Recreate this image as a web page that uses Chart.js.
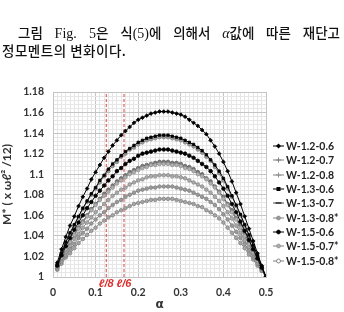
<!DOCTYPE html>
<html><head><meta charset="utf-8">
<script src="https://cdn.jsdelivr.net/npm/chart.js@4"></script>
<style>
html,body{margin:0;padding:0;background:#fff;}
#wrap{position:relative;width:344px;height:312px;overflow:hidden;background:#fff;}
#c{position:absolute;left:0;top:0;}
.cap{position:absolute;font-family:"Noto Sans CJK KR";font-weight:500;font-size:13.5px;color:#111;line-height:18px;}
.serif{font-family:"Liberation Serif";font-weight:normal;font-size:14px;}
.greek{font-family:"Liberation Serif";font-style:italic;font-size:14px;}
#l1{left:18px;top:23px;width:322px;text-align:justify;text-align-last:justify;white-space:normal;}
#l2{left:2px;top:41px;white-space:nowrap;letter-spacing:0.5px;}
#legend{position:absolute;left:273px;top:139px;font-family:Lato;font-weight:bold;font-size:10.5px;color:#222;}
.item{height:14.3px;display:flex;align-items:center;white-space:nowrap;}
.item svg{margin-right:1px;flex:none;}
</style></head>
<body>
<div id="wrap">
<canvas id="c" width="344" height="312"></canvas>
<div class="cap" id="l1">그림 <span class="serif">Fig. 5</span>은 식<span class="serif">(5)</span>에 의해서 <span class="greek">α</span>값에 따른 재단고</div>
<div class="cap" id="l2">정모멘트의 변화이다.</div>
<div id="legend"></div>
</div>
<script>
// ---- data ----
const alphas = [0.01,0.02,0.03,0.04,0.05,0.06,0.07,0.08,0.09,0.10,
                0.11,0.12,0.13,0.14,0.15,0.16,0.17,0.18,0.19,0.20,
                0.21,0.22,0.23,0.24,0.25,0.26,0.27,0.28,0.29,0.30,
                0.31,0.32,0.33,0.34,0.35,0.36,0.37,0.38,0.39,0.40,
                0.41,0.42,0.43,0.44,0.45,0.46,0.47,0.48,0.49,0.50];

const seriesNames = ['W-1.2-0.6','W-1.2-0.7','W-1.2-0.8','W-1.3-0.6','W-1.3-0.7','W-1.3-0.8*','W-1.5-0.6','W-1.5-0.7*','W-1.5-0.8*'];

const W12_06 = [1.014,1.027,1.039,1.050,1.059,1.069,1.078,1.086,1.095,1.102,
                1.109,1.116,1.122,1.128,1.133,1.138,1.142,1.146,1.150,1.153,
                1.155,1.157,1.159,1.160,1.161,1.161,1.161,1.160,1.159,1.158,
                1.156,1.153,1.150,1.147,1.143,1.139,1.133,1.127,1.120,1.112,
                1.103,1.093,1.082,1.071,1.059,1.047,1.035,1.023,1.011,1.000];
const W12_07 = [1.012,1.023,1.033,1.042,1.050,1.058,1.066,1.073,1.080,1.086,
                1.092,1.098,1.103,1.108,1.112,1.117,1.120,1.124,1.126,1.129,
                1.131,1.133,1.134,1.135,1.136,1.136,1.136,1.135,1.134,1.133,
                1.131,1.129,1.127,1.124,1.121,1.117,1.113,1.107,1.101,1.094,
                1.086,1.078,1.069,1.060,1.050,1.040,1.030,1.020,1.010,1.000];
const W12_08 = [1.010,1.019,1.027,1.034,1.041,1.047,1.053,1.059,1.065,1.070,
                1.075,1.079,1.083,1.087,1.091,1.094,1.097,1.100,1.102,1.104,
                1.106,1.107,1.109,1.109,1.110,1.110,1.110,1.109,1.109,1.108,
                1.106,1.105,1.103,1.100,1.098,1.095,1.091,1.087,1.082,1.076,
                1.070,1.063,1.056,1.048,1.040,1.032,1.024,1.016,1.008,1.000];
const W13_06 = [1.012,1.023,1.034,1.043,1.051,1.059,1.067,1.074,1.081,1.087,
                1.094,1.099,1.105,1.110,1.114,1.118,1.122,1.125,1.128,1.131,
                1.133,1.135,1.136,1.137,1.138,1.138,1.138,1.137,1.136,1.135,
                1.133,1.131,1.129,1.126,1.123,1.119,1.114,1.109,1.103,1.096,
                1.088,1.079,1.070,1.061,1.051,1.041,1.031,1.021,1.010,1.000];
const W13_07 = [1.010,1.019,1.027,1.034,1.041,1.048,1.054,1.060,1.066,1.071,
                1.076,1.081,1.085,1.089,1.093,1.096,1.099,1.102,1.104,1.106,
                1.108,1.109,1.110,1.111,1.112,1.112,1.112,1.111,1.111,1.110,
                1.108,1.107,1.105,1.102,1.100,1.096,1.093,1.088,1.083,1.078,
                1.071,1.065,1.057,1.050,1.042,1.034,1.025,1.017,1.008,1.000];
const W13_08 = [1.008,1.015,1.021,1.027,1.032,1.038,1.043,1.047,1.052,1.056,
                1.060,1.063,1.067,1.070,1.073,1.075,1.078,1.080,1.082,1.084,
                1.085,1.086,1.087,1.087,1.088,1.088,1.088,1.088,1.087,1.086,
                1.085,1.084,1.082,1.080,1.078,1.076,1.073,1.070,1.066,1.061,
                1.056,1.050,1.044,1.038,1.032,1.026,1.019,1.013,1.006,1.000];
const W15_06 = [1.011,1.021,1.030,1.038,1.046,1.053,1.060,1.067,1.073,1.079,
                1.084,1.089,1.094,1.098,1.103,1.106,1.110,1.113,1.115,1.118,
                1.120,1.121,1.122,1.123,1.124,1.124,1.124,1.123,1.122,1.121,
                1.120,1.118,1.116,1.113,1.110,1.107,1.103,1.098,1.092,1.086,
                1.079,1.071,1.063,1.054,1.045,1.036,1.027,1.018,1.009,1.000];
const W15_07 = [1.009,1.017,1.024,1.030,1.037,1.042,1.048,1.053,1.058,1.063,
                1.067,1.071,1.075,1.079,1.082,1.085,1.087,1.090,1.092,1.094,
                1.095,1.097,1.098,1.098,1.099,1.099,1.099,1.098,1.098,1.097,
                1.096,1.094,1.092,1.090,1.088,1.085,1.082,1.078,1.074,1.069,
                1.063,1.057,1.050,1.043,1.036,1.029,1.022,1.015,1.007,1.000];
const W15_08 = [1.007,1.013,1.019,1.023,1.028,1.033,1.037,1.041,1.045,1.048,
                1.052,1.055,1.058,1.060,1.063,1.065,1.067,1.069,1.071,1.072,
                1.073,1.074,1.075,1.075,1.076,1.076,1.076,1.076,1.075,1.074,
                1.073,1.072,1.071,1.069,1.068,1.065,1.063,1.060,1.057,1.053,
                1.048,1.043,1.038,1.033,1.028,1.022,1.017,1.011,1.006,1.000];

const seriesValues = [W12_06,W12_07,W12_08,W13_06,W13_07,W13_08,W15_06,W15_07,W15_08];

// reference lines l/8 and l/6
const refAlphas = [0.125, 0.1667];
const refLabels = ['ℓ/8','ℓ/6'];

// axes
const xMin = 0, xMax = 0.5, xMinor = 0.01;
const yMin = 1, yMax = 1.18, yMinor = 0.004;
const xTickValues = [0,0.1,0.2,0.3,0.4,0.5];
const xTickLabels = ['0','0.1','0.2','0.3','0.4','0.5'];
const yTickValues = [1,1.02,1.04,1.06,1.08,1.1,1.12,1.14,1.16,1.18];
const yTickLabels = ['1','1.02','1.04','1.06','1.08','1.1','1.12','1.14','1.16','1.18'];

// ---- styles ----
const BLACK = '#000000', GRAY = '#808080', LGRAY = '#9a9a9a';
const styles = [
  {line:BLACK, fill:BLACK, border:BLACK, ps:'rectRot', r:1.9, mk:'diamond', dark:true},
  {line:GRAY,  fill:LGRAY, border:GRAY,  ps:'circle',  r:1.8, mk:'plus'},
  {line:GRAY,  fill:'#b0b0b0', border:'#909090', ps:'circle', r:1.8, mk:'plus'},
  {line:BLACK, fill:BLACK, border:BLACK, ps:'rect',    r:1.7, mk:'square', dark:true},
  {line:'#555',fill:'#777', border:'#666', ps:'circle', r:1.8, mk:'dash'},
  {line:GRAY,  fill:LGRAY, border:GRAY,  ps:'circle',  r:1.8, mk:'circle'},
  {line:BLACK, fill:BLACK, border:BLACK, ps:'circle',  r:1.8, mk:'circle', dark:true},
  {line:GRAY,  fill:'#aaaaaa', border:'#8a8a8a', ps:'circle', r:1.8, mk:'circleL'},
  {line:GRAY,  fill:'#a5a5a5', border:'#858585', ps:'circle', r:1.8, mk:'circleO'}
];

function near(v, arr){ for (let i=0;i<arr.length;i++){ if (Math.abs(v-arr[i])<1e-6) return i; } return -1; }

const datasets = [];
seriesValues.forEach((vals, i) => {
  const s = styles[i];
  datasets.push({
    label: seriesNames[i],
    data: alphas.map((a, k) => ({x:a, y:vals[k]})),
    showLine: true,
    borderColor: s.line,
    borderWidth: 1,
    pointStyle: s.ps,
    pointRadius: s.r,
    pointBackgroundColor: s.fill,
    pointBorderColor: s.border,
    pointBorderWidth: 0.8,
    order: s.dark ? 0 : 1
  });
});
refAlphas.forEach((a, i) => {
  datasets.push({
    label: refLabels[i],
    data: [{x:a, y:yMin},{x:a, y:yMax}],
    showLine: true,
    borderColor: '#e04545',
    borderWidth: 1,
    borderDash: [3,2],
    pointRadius: 0,
    order: 2
  });
});

const refLabelPlugin = {
  id: 'refLabels',
  afterDatasetsDraw(chart){
    const {ctx, scales:{x, y}} = chart;
    ctx.save();
    ctx.fillStyle = '#e03030';
    ctx.font = 'italic bold 11px "Liberation Sans"';
    ctx.textAlign = 'center';
    ctx.textBaseline = 'middle';
    refAlphas.forEach((a, i) => ctx.fillText(refLabels[i], x.getPixelForValue(a), y.bottom + 7));
    ctx.restore();
  }
};

function gridColor(ctx, majors){
  const v = ctx.tick ? ctx.tick.value : null;
  if (v === null) return '#e6e6e6';
  return near(v, majors) >= 0 ? '#c4c4c4' : '#e6e6e6';
}

new Chart(document.getElementById('c'), {
  type: 'scatter',
  data: { datasets },
  plugins: [refLabelPlugin],
  options: {
    responsive: false,
    animation: false,
    layout: { padding: { top: 92, right: 78, left: 0, bottom: 0 } },
    plugins: { legend: { display: false }, tooltip: { enabled: false } },
    scales: {
      x: {
        type: 'linear', min: xMin, max: xMax,
        afterFit(s){ s.height = 35; },
        ticks: {
          stepSize: xMinor, autoSkip: false, maxRotation: 0, padding: 9,
          color: '#333', font: { family: 'Lato', weight: 'bold', size: 10.5 },
          callback(v){ const i = near(v, xTickValues); return i >= 0 ? xTickLabels[i] : ''; }
        },
        grid: { drawTicks: false, color: (c) => gridColor(c, xTickValues), lineWidth: 1 },
        border: { color: '#c4c4c4' },
        title: { display: true, text: 'α', color: '#333', font: { family: 'DejaVu Sans', weight: 'bold', size: 12 }, padding: { top: 0, bottom: 0 } }
      },
      y: {
        type: 'linear', min: yMin, max: yMax,
        afterFit(s){ s.width = 53; },
        ticks: {
          stepSize: yMinor, autoSkip: false, padding: 9,
          color: '#333', font: { family: 'Lato', weight: 'bold', size: 10.5 },
          callback(v){ const i = near(v, yTickValues); return i >= 0 ? yTickLabels[i] : ''; }
        },
        grid: { drawTicks: false, color: (c) => gridColor(c, yTickValues), lineWidth: 1 },
        border: { color: '#c4c4c4' },
        title: { display: true, text: 'M* ( x ωℓ² /12)', color: '#333', font: { family: 'Lato', weight: 'bold', size: 12 }, padding: { top: 0, bottom: 0 } }
      }
    }
  }
});

// ---- HTML legend built from datasets ----
function markerSvg(s){
  let m = '';
  const cx = 5.5, cy = 4;
  if (s.mk === 'diamond') m = `<polygon points="${cx},${cy-2.5} ${cx+2.5},${cy} ${cx},${cy+2.5} ${cx-2.5},${cy}" fill="${s.fill}"/>`;
  else if (s.mk === 'square') m = `<rect x="${cx-2}" y="${cy-2}" width="4" height="4" fill="${s.fill}"/>`;
  else if (s.mk === 'plus') m = `<path d="M${cx-2.5} ${cy}H${cx+2.5}M${cx} ${cy-2.5}V${cy+2.5}" stroke="${s.border}" stroke-width="1"/>`;
  else if (s.mk === 'dash') m = `<rect x="${cx-3}" y="${cy-0.8}" width="6" height="1.6" fill="#333"/>`;
  else if (s.mk === 'circleO') m = `<circle cx="${cx}" cy="${cy}" r="2" fill="#fff" stroke="${s.border}" stroke-width="1"/>`;
  else m = `<circle cx="${cx}" cy="${cy}" r="2" fill="${s.fill}" stroke="${s.border}" stroke-width="0.6"/>`;
  return `<svg width="12" height="8" viewBox="0 0 12 8"><line x1="0" y1="4" x2="11" y2="4" stroke="${s.line}" stroke-width="1"/>${m}</svg>`;
}
const leg = document.getElementById('legend');
seriesNames.forEach((n, i) => {
  const d = document.createElement('div');
  d.className = 'item';
  d.innerHTML = markerSvg(styles[i]) + '<span>' + n + '</span>';
  leg.appendChild(d);
});
</script>
</body></html>
